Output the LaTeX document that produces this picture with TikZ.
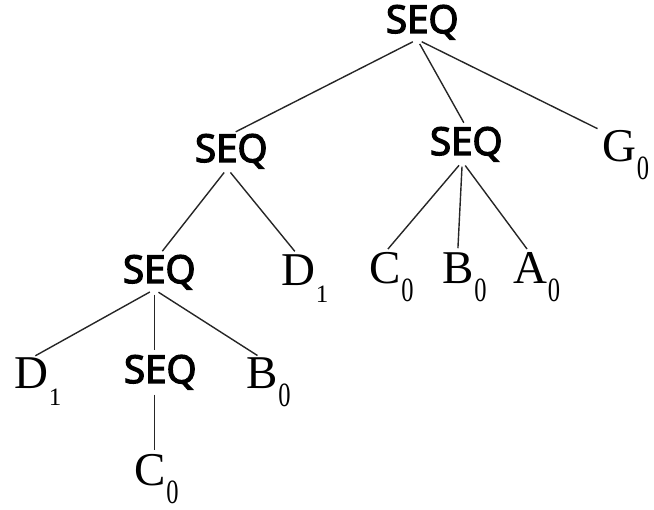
\documentclass[tikz,border=0pt]{standalone}
\usepackage{fontspec}
\usepackage{graphicx}
\setmainfont{Liberation Serif}
\newfontfamily\seqfont{Open Sans}[FakeBold=3.5]
\newcommand\subzero{\raisebox{-18pt}{\fontsize{34}{34}\selectfont\scalebox{0.72}[1]{0}}}
\newcommand\subone{\raisebox{-17pt}{\fontsize{25}{25}\selectfont 1}}
\newcommand\leaf[2]{#1\rlap{\kern1pt #2}}
\tikzset{
  seqnode/.style={anchor=base west, inner sep=0pt, outer sep=0pt, font=\seqfont\fontsize{38.5}{38.5}\selectfont},
  leafnode/.style={anchor=base west, inner sep=0pt, outer sep=0pt, font=\fontsize{47}{47}\selectfont},
  edge/.style={line width=1.4pt, draw=black!85, shorten <=5pt, shorten >=5pt}
}
\begin{document}
\begin{tikzpicture}[x=1pt,y=-1pt]
\useasboundingbox (0,0) rectangle (654,510);
\node[seqnode] (root) at (386,33) {SEQ};
\node[seqnode] (s1) at (195,162) {SEQ};
\node[seqnode] (s2) at (430,155) {SEQ};
\node[leafnode] (g0) at (602,162) {\leaf{G}{\subzero}};
\node[seqnode] (s3) at (123,283) {SEQ};
\node[leafnode] (d1a) at (281,286) {\leaf{D}{\subone}};
\node[leafnode] (c0a) at (369,284) {\leaf{C}{\subzero}};
\node[leafnode] (b0a) at (442,284) {\leaf{B}{\subzero}};
\node[leafnode] (a0) at (513,284) {\leaf{A}{\subzero}};
\node[leafnode] (d1b) at (14,389) {\leaf{D}{\subone}};
\node[seqnode] (s4) at (124,383) {SEQ};
\node[leafnode] (b0b) at (246,389) {\leaf{B}{\subzero}};
\node[leafnode] (c0b) at (134,486) {\leaf{C}{\subzero}};
\coordinate (rootf) at ([xshift=-5pt]root.south);
\coordinate (s1f) at ([xshift=-4pt]s1.south);
\coordinate (s2f) at ([xshift=-4pt]s2.south);
\coordinate (s3f) at ([xshift=-5pt]s3.south);
\coordinate (s4f) at ([xshift=-6pt]s4.south);
\draw[edge] (rootf) -- (s1.north);
\draw[edge] (rootf) -- (s2.north);
\draw[edge] (rootf) -- (g0.north west);
\draw[edge] (s1f) -- (s3.north);
\draw[edge] (s1f) -- (d1a.north);
\draw[edge] (s2f) -- (c0a.north);
\draw[edge] (s2f) -- (b0a.north);
\draw[edge] (s2f) -- (a0.north);
\draw[edge] (s3f) -- (d1b.north);
\draw[edge] (s3f) -- (s3f |- s4.north);
\draw[edge] (s3f) -- (b0b.north);
\draw[edge] (s4f) -- (s4f |- c0b.north);
\end{tikzpicture}
\end{document}
